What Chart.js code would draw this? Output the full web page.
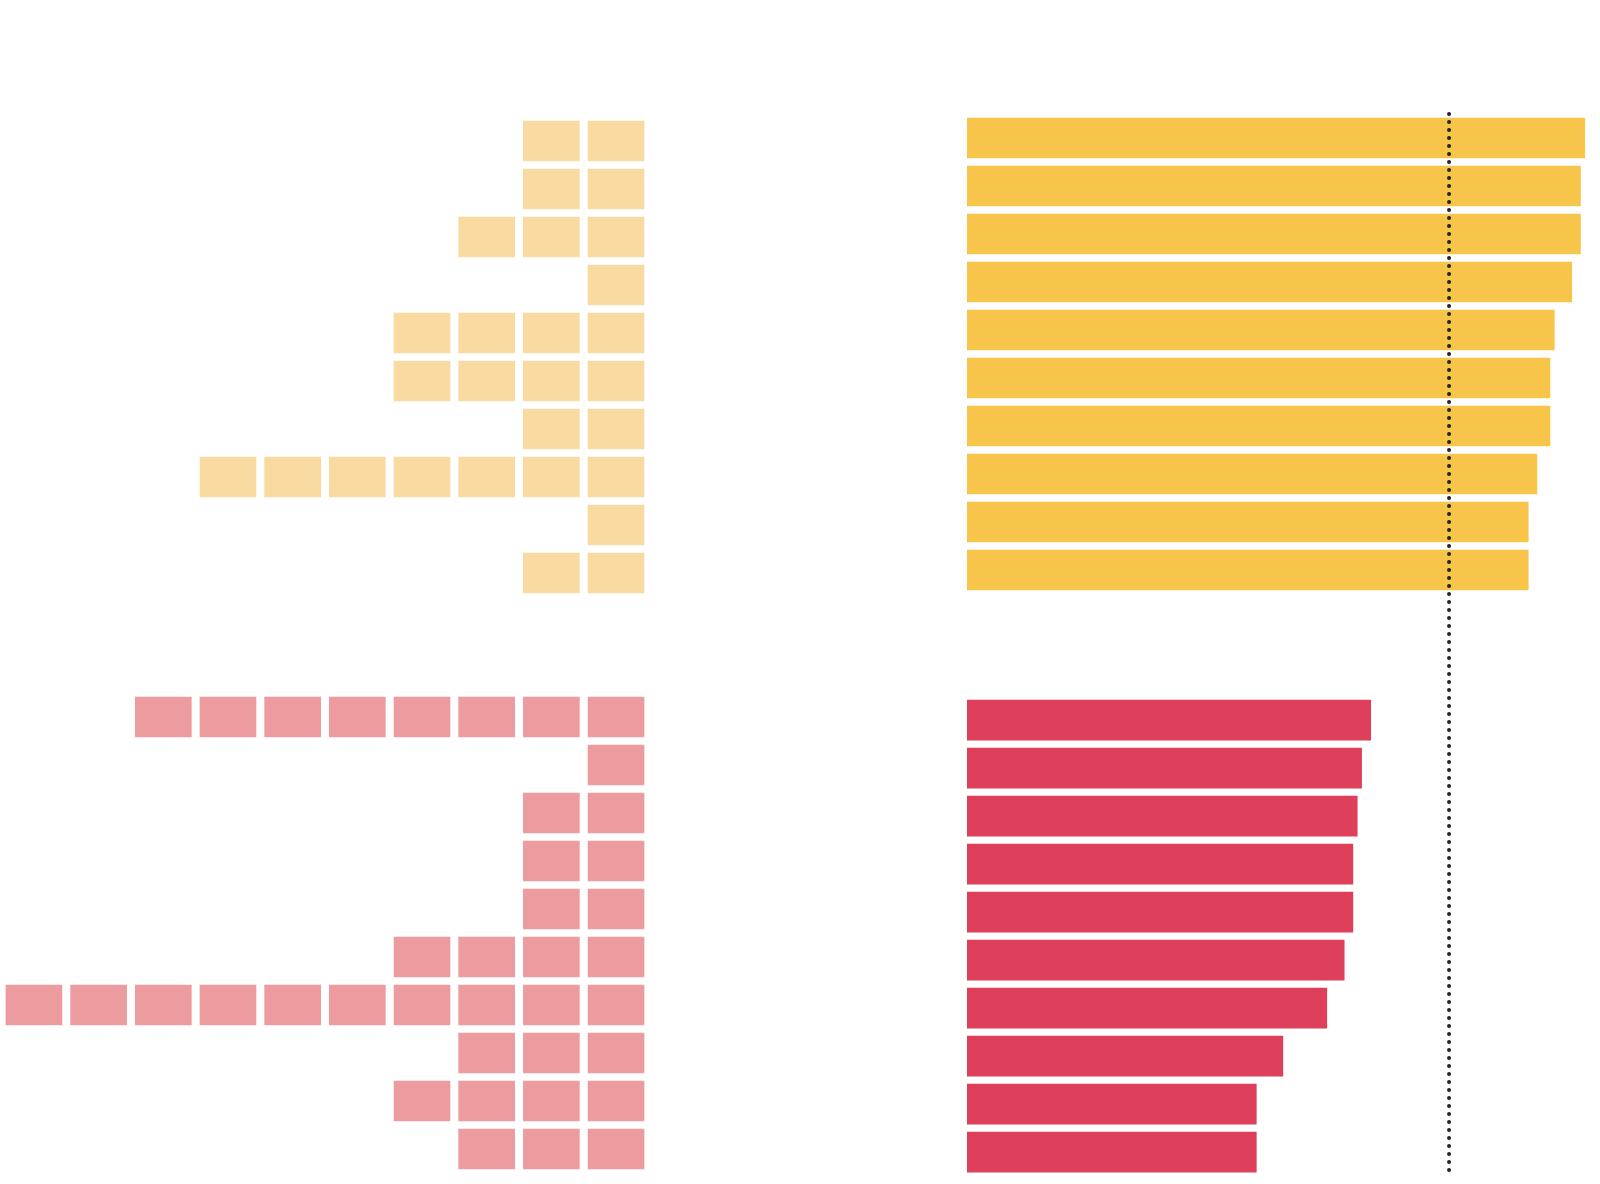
<!DOCTYPE html>
<html>
<head>
<meta charset="utf-8">
<script src="https://cdn.jsdelivr.net/npm/chart.js@4/dist/chart.umd.min.js"></script>
<style>
  html, body { margin: 0; padding: 0; background: #ffffff; }
  #wrap { position: relative; width: 1600px; height: 1184px; overflow: hidden; background: #ffffff; }
  canvas { position: absolute; top: 0; }
  #squares { left: 0; }
  #bars { left: 960px; }
</style>
</head>
<body>
<div id="wrap">
  <canvas id="squares" width="660" height="1184"></canvas>
  <canvas id="bars" width="640" height="1184"></canvas>
</div>
<script>
// ---- data ----
const yellowSquares = [2, 2, 3, 1, 4, 4, 2, 7, 1, 2];
const redSquares    = [8, 1, 2, 2, 2, 4, 10, 3, 4, 3];
const yellowValues  = [142, 141, 141, 139, 135, 134, 134, 131, 129, 129];
const redValues     = [92.8, 90.7, 89.7, 88.7, 88.7, 86.7, 82.7, 72.6, 66.5, 66.5];
const referenceValue = 110.8;

// ---- styles / layout constants ----
const COLORS = {
  yellowBar: '#F6C54A',
  yellowSquare: '#F9DBA1',
  redBar: '#DE405B',
  redSquare: '#EC9C9F',
  dots: '#222222'
};
const SQUARE_FILL = 0.866;      // share of a column occupied by a square
const RED_START_SQUARES = 12;   // row index of first red row in the square panel
const RED_START_BARS = 12.125;  // row index of first red row in the bar panel

function squareData(counts, start) {
  const out = [];
  counts.forEach((n, r) => {
    for (let k = 0; k < n; k++) {
      out.push({ y: start + r, x: [-k - SQUARE_FILL, -k] });
    }
  });
  return out;
}
function barData(values, start) {
  return values.map((v, r) => ({ y: start + r, x: v }));
}

function fixedAxis(min, max, reverse) {
  const lo = min, hi = max;
  return {
    type: 'linear', min: lo, max: hi, reverse: !!reverse,
    display: false, offset: false, bounds: 'data', grace: 0,
    afterDataLimits(scale) { scale.min = lo; scale.max = hi; },
    afterBuildTicks(scale) { scale.min = lo; scale.max = hi; }
  };
}

Chart.defaults.animation = false;

new Chart(document.getElementById('squares'), {
  type: 'bar',
  data: {
    datasets: [
      { data: squareData(yellowSquares, 0), backgroundColor: COLORS.yellowSquare },
      { data: squareData(redSquares, RED_START_SQUARES), backgroundColor: COLORS.redSquare }
    ]
  },
  options: {
    responsive: false,
    indexAxis: 'y',
    grouped: false,
    barThickness: 40,
    borderWidth: 0,
    layout: { padding: 0 },
    plugins: { legend: { display: false }, tooltip: { enabled: false } },
    scales: {
      x: fixedAxis(-9.958, 0.247, false),
      y: fixedAxis(-2.9375, 21.729, true)
    }
  }
});

const dottedLine = {
  id: 'dottedLine',
  afterDatasetsDraw(chart) {
    const { ctx, scales } = chart;
    const x = scales.x.getPixelForValue(referenceValue);
    const y0 = scales.y.getPixelForValue(-0.5);
    const y1 = scales.y.getPixelForValue(RED_START_BARS + redValues.length - 0.5);
    ctx.save();
    ctx.strokeStyle = COLORS.dots;
    ctx.lineWidth = 4;
    ctx.lineCap = 'round';
    ctx.setLineDash([0, 8]);
    ctx.beginPath();
    ctx.moveTo(x, y0);
    ctx.lineTo(x, y1);
    ctx.stroke();
    ctx.restore();
  }
};

new Chart(document.getElementById('bars'), {
  type: 'bar',
  data: {
    datasets: [
      { data: barData(yellowValues, 0), backgroundColor: COLORS.yellowBar },
      { data: barData(redValues, RED_START_BARS), backgroundColor: COLORS.redBar }
    ]
  },
  options: {
    responsive: false,
    indexAxis: 'y',
    grouped: false,
    barThickness: 40,
    borderWidth: 0,
    layout: { padding: { left: 7, right: 0, top: 0, bottom: 0 } },
    plugins: { legend: { display: false }, tooltip: { enabled: false } },
    scales: {
      x: fixedAxis(0, 145.5, false),
      y: fixedAxis(-2.875, 21.79, true)
    }
  },
  plugins: [dottedLine]
});
</script>
</body>
</html>
